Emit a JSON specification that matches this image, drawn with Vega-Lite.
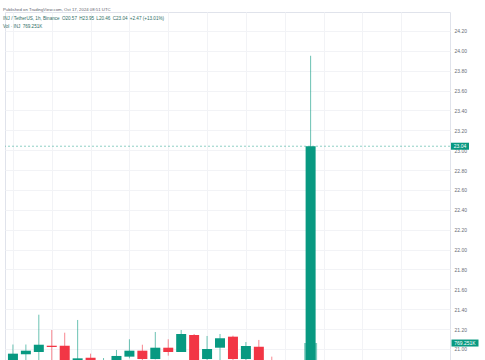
{
  "$schema": "https://vega.github.io/schema/vega-lite/v6.json",
  "width": 445,
  "height": 348,
  "autosize": {"type": "none"},
  "padding": {"left": 5, "top": 12, "right": 35, "bottom": 0},
  "background": "#ffffff",
  "title": {
    "text": "Published on TradingView.com, Oct 17, 2024 08:51 UTC",
    "subtitle": ["\u2002\u2002INJ / TetherUS, 1h, Binance\u2002O20.57\u2002H23.95\u2002L20.46\u2002C23.04\u2002+2.47 (+13.01%)", "\u2002\u2002Vol · INJ\u2002769.251K"],
    "anchor": "start",
    "frame": "group",
    "orient": "top",
    "offset": -17,
    "dx": -2,
    "font": "Liberation Sans",
    "fontSize": 4.3,
    "fontWeight": "normal",
    "color": "#5d606b",
    "subtitleFont": "Liberation Sans",
    "subtitleFontSize": 4.6,
    "subtitleColor": "#2f6e66",
    "subtitleLineHeight": 8,
    "subtitlePadding": 4.5
  },
  "data": {
    "values": [
      {"time": "2024-10-16T09:00:00Z", "open": 20.86, "high": 21.045, "low": 20.84, "close": 20.953},
      {"time": "2024-10-16T10:00:00Z", "open": 20.947, "high": 21.045, "low": 20.87, "close": 20.983},
      {"time": "2024-10-16T11:00:00Z", "open": 20.97, "high": 21.345, "low": 20.87, "close": 21.043},
      {"time": "2024-10-16T12:00:00Z", "open": 21.033, "high": 21.191, "low": 20.88, "close": 21.02},
      {"time": "2024-10-16T13:00:00Z", "open": 21.033, "high": 21.164, "low": 20.83, "close": 20.85},
      {"time": "2024-10-16T14:00:00Z", "open": 20.87, "high": 21.292, "low": 20.85, "close": 20.906},
      {"time": "2024-10-16T15:00:00Z", "open": 20.912, "high": 20.953, "low": 20.85, "close": 20.87},
      {"time": "2024-10-16T16:00:00Z", "open": 20.86, "high": 20.909, "low": 20.84, "close": 20.88},
      {"time": "2024-10-16T17:00:00Z", "open": 20.87, "high": 20.99, "low": 20.86, "close": 20.93},
      {"time": "2024-10-16T18:00:00Z", "open": 20.923, "high": 21.098, "low": 20.906, "close": 20.983},
      {"time": "2024-10-16T19:00:00Z", "open": 20.983, "high": 21.043, "low": 20.88, "close": 20.899},
      {"time": "2024-10-16T20:00:00Z", "open": 20.899, "high": 21.171, "low": 20.895, "close": 21.013},
      {"time": "2024-10-16T21:00:00Z", "open": 21.013, "high": 21.098, "low": 20.933, "close": 20.97},
      {"time": "2024-10-16T22:00:00Z", "open": 20.97, "high": 21.191, "low": 20.97, "close": 21.151},
      {"time": "2024-10-16T23:00:00Z", "open": 21.141, "high": 21.151, "low": 20.86, "close": 20.87},
      {"time": "2024-10-17T00:00:00Z", "open": 20.899, "high": 21.131, "low": 20.87, "close": 21.0},
      {"time": "2024-10-17T01:00:00Z", "open": 21.013, "high": 21.151, "low": 20.88, "close": 21.108},
      {"time": "2024-10-17T02:00:00Z", "open": 21.124, "high": 21.134, "low": 20.89, "close": 20.899},
      {"time": "2024-10-17T03:00:00Z", "open": 20.899, "high": 21.07, "low": 20.885, "close": 21.03},
      {"time": "2024-10-17T04:00:00Z", "open": 21.023, "high": 21.091, "low": 20.87, "close": 20.88},
      {"time": "2024-10-17T05:00:00Z", "open": 20.88, "high": 20.923, "low": 20.7, "close": 20.75},
      {"time": "2024-10-17T06:00:00Z", "open": 20.75, "high": 20.8, "low": 20.6, "close": 20.66},
      {"time": "2024-10-17T07:00:00Z", "open": 20.66, "high": 20.7, "low": 20.5, "close": 20.57},
      {"time": "2024-10-17T08:00:00Z", "open": 20.57, "high": 23.95, "low": 20.46, "close": 23.04, "volume": 769251}
    ]
  },
  "layer": [
    {
      "transform": [{"filter": "isValid(datum.volume)"}],
      "mark": {"type": "bar", "size": 13, "color": "#089981", "opacity": 0.5, "clip": true},
      "encoding": {
        "x": {
          "field": "time", "type": "temporal",
          "scale": {"type": "utc", "domain": [
            {"year": 2024, "month": 10, "date": 16, "hours": 8, "minutes": 46, "seconds": 24, "utc": true},
            {"year": 2024, "month": 10, "date": 17, "hours": 18, "minutes": 23, "utc": true}
          ]},
          "axis": {
            "values": [
              {"year": 2024, "month": 10, "date": 16, "hours": 9, "utc": true},
              {"year": 2024, "month": 10, "date": 16, "hours": 12, "utc": true},
              {"year": 2024, "month": 10, "date": 16, "hours": 15, "utc": true},
              {"year": 2024, "month": 10, "date": 16, "hours": 18, "utc": true},
              {"year": 2024, "month": 10, "date": 16, "hours": 21, "utc": true},
              {"year": 2024, "month": 10, "date": 17, "hours": 0, "utc": true},
              {"year": 2024, "month": 10, "date": 17, "hours": 3, "utc": true},
              {"year": 2024, "month": 10, "date": 17, "hours": 6, "utc": true},
              {"year": 2024, "month": 10, "date": 17, "hours": 9, "utc": true},
              {"year": 2024, "month": 10, "date": 17, "hours": 12, "utc": true},
              {"year": 2024, "month": 10, "date": 17, "hours": 15, "utc": true}
            ],
            "grid": true, "gridColor": "#f2f3f6", "gridWidth": 1,
            "labels": false, "ticks": false, "domain": false, "title": null
          }
        },
        "y": {"field": "volume", "type": "quantitative", "scale": {"domain": [540000, 5240000], "zero": false, "nice": false}, "axis": null}
      }
    },
    {
      "mark": {"type": "rule", "strokeWidth": 1, "opacity": 0.6, "clip": true},
      "encoding": {
        "x": {"field": "time", "type": "temporal", "scale": {"type": "utc", "domain": [
            {"year": 2024, "month": 10, "date": 16, "hours": 8, "minutes": 46, "seconds": 24, "utc": true},
            {"year": 2024, "month": 10, "date": 17, "hours": 18, "minutes": 23, "utc": true}
          ]}},
        "y": {
          "field": "low", "type": "quantitative",
          "scale": {"domain": [20.8893, 24.3903], "zero": false, "nice": false},
          "axis": {
            "orient": "right",
            "values": [21, 21.2, 21.4, 21.6, 21.8, 22, 22.2, 22.4, 22.6, 22.8, 23, 23.2, 23.4, 23.6, 23.8, 24, 24.2],
            "format": ".2f", "title": null, "domain": false, "ticks": false,
            "labelPadding": 4, "labelFontSize": 5, "labelFont": "Liberation Sans", "labelColor": "#6a6d78",
            "labelAlign": "left", "grid": true, "gridColor": "#f2f3f6", "gridWidth": 1
          }
        },
        "y2": {"field": "high"},
        "color": {"condition": {"test": "datum.close >= datum.open", "value": "#089981"}, "value": "#F23645"}
      }
    },
    {
      "mark": {"type": "bar", "size": 10, "clip": true},
      "encoding": {
        "x": {"field": "time", "type": "temporal", "scale": {"type": "utc", "domain": [
            {"year": 2024, "month": 10, "date": 16, "hours": 8, "minutes": 46, "seconds": 24, "utc": true},
            {"year": 2024, "month": 10, "date": 17, "hours": 18, "minutes": 23, "utc": true}
          ]}},
        "y": {"field": "open", "type": "quantitative", "scale": {"domain": [20.8893, 24.3903], "zero": false, "nice": false}, "axis": null},
        "y2": {"field": "close"},
        "color": {"condition": {"test": "datum.close >= datum.open", "value": "#089981"}, "value": "#F23645"}
      }
    },
    {
      "transform": [{"filter": "isValid(datum.volume)"}],
      "mark": {"type": "rule", "strokeWidth": 1, "strokeDash": [2, 2], "color": "#089981", "opacity": 0.45},
      "encoding": {
        "y": {"field": "close", "type": "quantitative", "scale": {"domain": [20.8893, 24.3903], "zero": false, "nice": false}, "axis": null}
      }
    },
    {
      "transform": [{"filter": "isValid(datum.volume)"}],
      "mark": {"type": "tick", "orient": "horizontal", "size": 18, "thickness": 7, "color": "#089981", "opacity": 1, "xOffset": 10, "clip": false},
      "encoding": {
        "x": {"value": "width"},
        "y": {"field": "close", "type": "quantitative", "scale": {"domain": [20.8893, 24.3903], "zero": false, "nice": false}, "axis": null}
      }
    },
    {
      "transform": [{"filter": "isValid(datum.volume)"}],
      "mark": {"type": "text", "dx": 10, "align": "center", "baseline": "middle", "color": "#ffffff", "font": "Liberation Sans", "fontSize": 5, "clip": false},
      "encoding": {
        "x": {"value": "width"},
        "y": {"field": "close", "type": "quantitative", "scale": {"domain": [20.8893, 24.3903], "zero": false, "nice": false}, "axis": null},
        "text": {"field": "close", "type": "quantitative", "format": ".2f"}
      }
    },
    {
      "transform": [{"filter": "isValid(datum.volume)"}],
      "mark": {"type": "tick", "orient": "horizontal", "size": 27, "thickness": 7, "color": "#089981", "opacity": 1, "xOffset": 15, "clip": false},
      "encoding": {
        "x": {"value": "width"},
        "y": {"field": "volume", "type": "quantitative", "scale": {"domain": [540000, 5240000], "zero": false, "nice": false}, "axis": null}
      }
    },
    {
      "transform": [{"filter": "isValid(datum.volume)"}],
      "mark": {"type": "text", "dx": 15, "align": "center", "baseline": "middle", "color": "#ffffff", "font": "Liberation Sans", "fontSize": 5, "clip": false},
      "encoding": {
        "x": {"value": "width"},
        "y": {"field": "volume", "type": "quantitative", "scale": {"domain": [540000, 5240000], "zero": false, "nice": false}, "axis": null},
        "text": {"value": "769.251K"}
      }
    }
  ],
  "resolve": {"scale": {"y": "independent"}},
  "config": {
    "view": {"stroke": "#e0e3eb", "strokeWidth": 1},
    "axis": {"labelFont": "Liberation Sans"}
  }
}
